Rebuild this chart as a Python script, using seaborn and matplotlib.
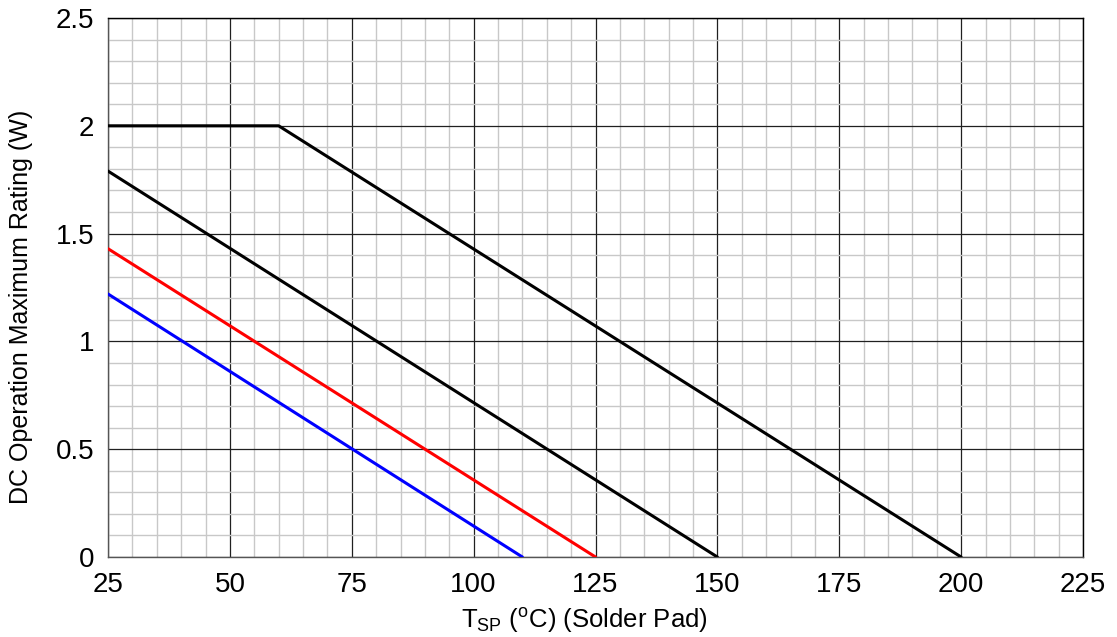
import matplotlib
matplotlib.use("Agg")
import matplotlib.pyplot as plt
import seaborn as sns
import pandas as pd
import numpy as np
from matplotlib.ticker import MultipleLocator

# Data
curve_a_x = [25, 60, 200]
curve_a_y = [2.0, 2.0, 0.0]
curve_b_x = [25, 150]
curve_b_y = [1.79, 0.0]
curve_c_x = [25, 125]
curve_c_y = [1.43, 0.0]
curve_d_x = [25, 110]
curve_d_y = [1.22, 0.0]
colors = ["black", "black", "red", "blue"]
ytick_vals = [0, 0.5, 1, 1.5, 2, 2.5]
ytick_labels = ["0", "0.5", "1", "1.5", "2", "2.5"]

sns.set_theme(style="white")
plt.rcParams['font.family'] = ['Liberation Sans', 'DejaVu Sans']
plt.rcParams['mathtext.fontset'] = 'custom'
plt.rcParams['mathtext.rm'] = 'Liberation Sans'
plt.rcParams['mathtext.it'] = 'Liberation Sans'
plt.rcParams['text.color'] = 'black'
plt.rcParams['axes.labelcolor'] = 'black'
plt.rcParams['xtick.color'] = 'black'
plt.rcParams['ytick.color'] = 'black'

fig = plt.figure(figsize=(11.17, 6.37), dpi=100)
ax = fig.add_axes([108/1117, 1 - 557/637, (1083-108)/1117, (557-18)/637])

frames = []
for i, (xs, ys) in enumerate([(curve_a_x, curve_a_y), (curve_b_x, curve_b_y),
                              (curve_c_x, curve_c_y), (curve_d_x, curve_d_y)]):
    frames.append(pd.DataFrame({"x": xs, "y": ys, "s": f"c{i}"}))
df = pd.concat(frames)
sns.lineplot(data=df, x="x", y="y", hue="s", palette=colors, ax=ax,
             linewidth=2.2, legend=False, sort=False, estimator=None, zorder=5)

ax.set_xlim(25, 225)
ax.set_ylim(0, 2.5)
ax.xaxis.set_major_locator(MultipleLocator(25))
ax.xaxis.set_minor_locator(MultipleLocator(5))
ax.yaxis.set_minor_locator(MultipleLocator(0.1))
ax.set_yticks(ytick_vals)
ax.set_yticklabels(ytick_labels)
ax.grid(which="minor", color="#c8c8c8", linewidth=1.0, zorder=1)
ax.grid(which="major", color="#202020", linewidth=0.9, zorder=2)
ax.set_axisbelow(True)
for name, s in ax.spines.items():
    s.set_color("#555555" if name in ("left", "bottom") else "black")
    s.set_linewidth(1.0)
ax.tick_params(which="major", direction="out", length=4, width=1,
               labelsize=20, pad=6, color="#555555")
ax.tick_params(axis="x", which="major", pad=7)
ax.tick_params(which="minor", length=0)

ax.set_xlabel(r"T$_{\mathrm{SP}}$ ($^{\mathrm{o}}$C) (Solder Pad)", fontsize=18.5)
ax.xaxis.set_label_coords(0.489, -0.09)
ax.set_ylabel("DC Operation Maximum Rating (W)", fontsize=18)
ax.yaxis.set_label_coords(-0.077, 0.464)

fig.savefig("out.png", dpi=100)
